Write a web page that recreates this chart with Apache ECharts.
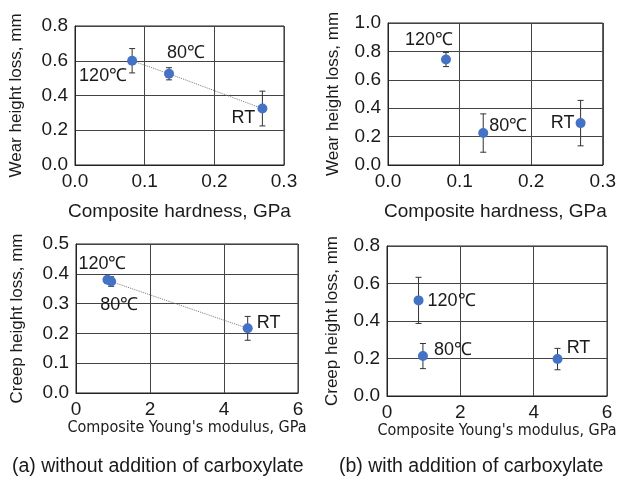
<!DOCTYPE html>
<html>
<head>
<meta charset="utf-8">
<script src="https://cdn.jsdelivr.net/npm/echarts@6/dist/echarts.min.js"></script>
<style>
  html, body { margin: 0; padding: 0; background: #fff; }
  #main { width: 619px; height: 477px; }
</style>
</head>
<body>
<div id="main"></div>
<script>
// point labels (same order in every panel)
const tempLabels = ["120℃", "80℃", "RT"];

// (a) without carboxylate
const hardnessA = [0.082, 0.135, 0.269];
const wearA = [0.6, 0.525, 0.325];
const wearErrA = [0.07, 0.035, 0.1];
const modulusA = [0.85, 0.95, 4.64];
const creepA = [0.38, 0.374, 0.217];
const creepErrA = [0.01, 0.016, 0.04];

// (b) with carboxylate
const hardnessB = [0.081, 0.133, 0.269];
const wearB = [0.743, 0.225, 0.295];
const wearErrB = [0.05, 0.135, 0.16];
const modulusB = [0.86, 0.98, 4.65];
const creepB = [0.51, 0.213, 0.197];
const creepErrB = [0.123, 0.067, 0.057];

const textColor = "#1a1a1a";
const font = "Liberation Sans";
const dotColor = "#4472C4";

let chartDom = document.getElementById("main");
let myChart = echarts.init(chartDom);

function yAxis(idx, max, interval, name, gap) {
  return {
    type: "value", gridIndex: idx, min: 0, max: max, interval: interval,
    name: name, nameLocation: "middle", nameGap: gap,
    nameTextStyle: { color: textColor, fontSize: 17, fontFamily: font },
    axisLine: { show: true, lineStyle: { color: "#222", width: 1 } },
    axisTick: { show: false },
    axisLabel: { color: textColor, fontSize: 19, fontFamily: font, margin: 7,
      formatter: (v) => v.toFixed(1) },
    splitLine: { show: true, lineStyle: { color: "#444", width: 1 } },
  };
}

function xAxis(idx, max, interval, name, gap, narrow, digits) {
  return {
    type: "value", gridIndex: idx, min: 0, max: max, interval: interval,
    name: name, nameLocation: "middle", nameGap: gap,
    nameTextStyle: narrow
      ? { color: textColor, fontSize: 16, fontFamily: "DejaVu Sans Condensed" }
      : { color: textColor, fontSize: 19, fontFamily: font },
    axisLine: { show: true, lineStyle: { color: "#222", width: 1 } },
    axisTick: { show: false },
    axisLabel: { color: textColor, fontSize: 19, fontFamily: font, margin: 7,
      formatter: (v) => v.toFixed(digits) },
    splitLine: { show: true, lineStyle: { color: "#444", width: 1 } },
  };
}

function points(idx, xs, ys, offsets) {
  return {
    type: "scatter", xAxisIndex: idx, yAxisIndex: idx, z: 5,
    symbolSize: 10,
    itemStyle: { color: dotColor, opacity: 1 },
    data: xs.map((x, i) => ({
      value: [x, ys[i]],
      label: {
        show: true, position: "inside", offset: offsets[i],
        formatter: tempLabels[i],
        color: textColor, fontSize: 18, fontFamily: font,
      },
    })),
  };
}

function errorBars(idx, xs, ys, errs) {
  return {
    type: "custom", xAxisIndex: idx, yAxisIndex: idx, z: 3,
    data: xs.map((x, i) => [x, ys[i] - errs[i], ys[i] + errs[i]]),
    renderItem: function (params, api) {
      let lo = api.coord([api.value(0), api.value(1)]);
      let hi = api.coord([api.value(0), api.value(2)]);
      let w = 3;
      let style = { stroke: "#333", lineWidth: 1 };
      return {
        type: "group",
        children: [
          { type: "line", shape: { x1: lo[0], y1: lo[1], x2: hi[0], y2: hi[1] }, style: style },
          { type: "line", shape: { x1: lo[0] - w, y1: lo[1], x2: lo[0] + w, y2: lo[1] }, style: style },
          { type: "line", shape: { x1: hi[0] - w, y1: hi[1], x2: hi[0] + w, y2: hi[1] }, style: style },
        ],
      };
    },
  };
}

function trend(idx, xs, ys) {
  return {
    type: "line", xAxisIndex: idx, yAxisIndex: idx, z: 2,
    symbol: "none", silent: true,
    lineStyle: { color: "#777", width: 1, type: "dotted" },
    data: xs.map((x, i) => [x, ys[i]]),
  };
}

let option = {
  animation: false,
  grid: [
    { left: 75, top: 26, width: 209, height: 139, show: true, borderColor: "#222", borderWidth: 1 },
    { left: 388, top: 23, width: 216, height: 142, show: true, borderColor: "#222", borderWidth: 1 },
    { left: 76, top: 244, width: 222, height: 149, show: true, borderColor: "#222", borderWidth: 1 },
    { left: 387, top: 246, width: 220, height: 150, show: true, borderColor: "#222", borderWidth: 1 },
  ],
  xAxis: [
    xAxis(0, 0.3, 0.1, "Composite hardness, GPa", 37, false, 1),
    xAxis(1, 0.3, 0.1, "Composite hardness, GPa", 37, false, 1),
    xAxis(2, 6, 2, "Composite Young's modulus, GPa", 27, true, 0),
    xAxis(3, 6, 2, "Composite Young's modulus, GPa", 27, true, 0),
  ],
  yAxis: [
    yAxis(0, 0.8, 0.2, "Wear height loss, mm", 50),
    yAxis(1, 1.0, 0.2, "Wear height loss, mm", 46),
    yAxis(2, 0.5, 0.1, "Creep height loss, mm", 50),
    yAxis(3, 0.8, 0.2, "Creep height loss, mm", 46),
  ],
  graphic: [
    { type: "text", left: 12, top: 457,
      style: { text: "(a) without addition of carboxylate", fill: textColor, fontSize: 19.5, fontFamily: font } },
    { type: "text", left: 339, top: 457,
      style: { text: "(b) with addition of carboxylate", fill: textColor, fontSize: 19.5, fontFamily: font } },
  ],
  series: [
    trend(0, hardnessA, wearA),
    errorBars(0, hardnessA, wearA, wearErrA),
    points(0, hardnessA, wearA, [[-29, 15], [17, -21], [-19, 9]]),
    errorBars(1, hardnessB, wearB, wearErrB),
    points(1, hardnessB, wearB, [[-17, -19], [25, -7], [-18, 0]]),
    trend(2, modulusA, creepA),
    errorBars(2, modulusA, creepA, creepErrA),
    points(2, modulusA, creepA, [[-5, -16], [8, 23], [21, -5]]),
    errorBars(3, modulusB, creepB, creepErrB),
    points(3, modulusB, creepB, [[33, 1], [30, -6], [21, -11]]),
  ],
};

option && myChart.setOption(option);
</script>
</body>
</html>
